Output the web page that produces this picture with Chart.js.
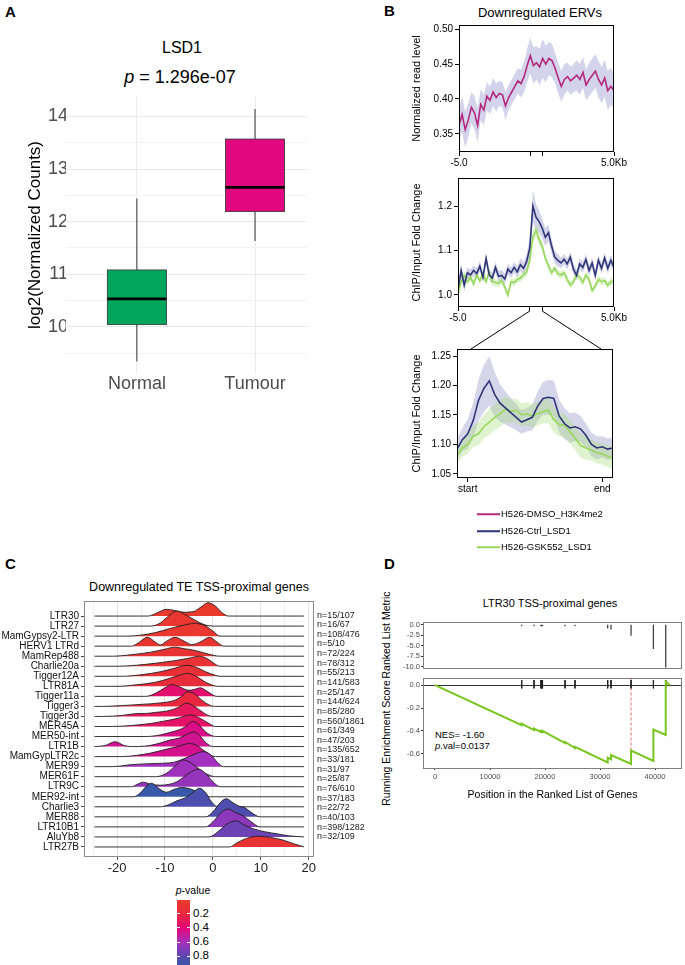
<!DOCTYPE html>
<html>
<head>
<meta charset="utf-8">
<script src="https://cdn.jsdelivr.net/npm/chart.js@4/dist/chart.umd.min.js"></script>
<style>
  html, body { margin: 0; padding: 0; background: #fff; }
  #page { position: relative; width: 685px; height: 965px; overflow: hidden; background: #fff;
          font-family: "Liberation Sans", Arial, Helvetica, sans-serif; color: #000; }
  #page canvas { position: absolute; }
  #page svg { position: absolute; left: 0; top: 0; }
  .t { position: absolute; white-space: nowrap; line-height: 1; }
  .c { transform: translate(-50%, -50%); }
  .l { transform: translate(0, -50%); }
  .r { transform: translate(-50%, -50%) rotate(-90deg); }
  .tag { font-weight: bold; font-size: 15px; }
</style>
</head>
<body>
<div id="page">
  <svg width="685" height="965">
    <line x1="529.8" y1="311" x2="471" y2="349" stroke="#000" stroke-width="1"/>
    <line x1="542.2" y1="311" x2="601" y2="349" stroke="#000" stroke-width="1"/>
  </svg>

  <div class="t tag" style="left:5px;top:4px">A</div>
  <div class="t tag" style="left:384px;top:3px">B</div>
  <div class="t tag" style="left:5px;top:556px">C</div>
  <div class="t tag" style="left:384px;top:556px">D</div>

  <div class="t c" style="left:182px;top:48px;font-size:16px">LSD1</div>
  <div class="t c" style="left:180px;top:77px;font-size:18px"><i>p</i> = 1.296e-07</div>

  <div class="t c" style="left:540px;top:12px;font-size:13px">Downregulated ERVs</div>

  <div class="t c" style="left:199px;top:587px;font-size:12.5px">Downregulated TE TSS-proximal genes</div>
  <div class="t c" style="left:193px;top:890px;font-size:10.5px"><i>p</i>-value</div>

  <div class="t c" style="left:550px;top:603px;font-size:11px">LTR30 TSS-proximal genes</div>
  <div class="t r" style="left:386px;top:635px;font-size:10.5px">Ranked List Metric</div>
  <div class="t r" style="left:386px;top:743px;font-size:10.5px">Running Enrichment Score</div>
  <div class="t l" style="left:435px;top:735px;font-size:9.5px">NES= -1.60</div>
  <div class="t l" style="left:435px;top:746px;font-size:9.5px"><i>p</i>.val=0.0137</div>
</div>

<script>
// ---- A: LSD1 expression boxplot ----
const boxCategories = ['Normal', 'Tumour'];
const boxLow    = [9.34, 11.63];
const boxQ1     = [10.04, 12.19];
const boxMedian = [10.53, 12.65];
const boxQ3     = [11.08, 13.57];
const boxHigh   = [12.44, 14.14];
const boxColors = ['#00a65b', '#e1077f'];
const boxTicks  = [9.5, 10, 10.5, 11, 11.5, 12, 12.5, 13, 13.5, 14];

// ---- B: profiles around downregulated ERVs ----
const profileKb = [-5.0,-4.8,-4.6,-4.4,-4.2,-4.0,-3.8,-3.6,-3.4,-3.2,
  -3.0,-2.8,-2.6,-2.4,-2.2,-2.0,-1.8,-1.6,-1.4,-1.2,
  -1.0,-0.8,-0.6,-0.4,-0.2,0.0,0.2,0.4,0.6,0.8,
  1.0,1.2,1.4,1.6,1.8,2.0,2.2,2.4,2.6,2.8,
  3.0,3.2,3.4,3.6,3.8,4.0,4.2,4.4,4.6,4.8,
  5.0];
const h3k4me2Level = [0.362,0.378,0.356,0.370,0.388,0.380,0.362,0.392,0.384,0.404,
  0.398,0.410,0.402,0.408,0.406,0.390,0.402,0.410,0.418,0.426,
  0.422,0.432,0.448,0.462,0.448,0.452,0.446,0.458,0.450,0.458,
  0.455,0.444,0.430,0.418,0.428,0.432,0.426,0.430,0.434,0.428,
  0.438,0.420,0.428,0.434,0.440,0.428,0.420,0.430,0.412,0.418,
  0.412];
const h3k4me2Err = [0.024,0.026,0.026,0.024,0.022,0.024,0.024,0.022,0.022,0.020,
  0.020,0.020,0.020,0.018,0.018,0.020,0.018,0.018,0.018,0.018,
  0.020,0.022,0.024,0.026,0.026,0.024,0.026,0.028,0.026,0.024,
  0.024,0.022,0.022,0.022,0.022,0.020,0.020,0.020,0.022,0.022,
  0.022,0.022,0.024,0.024,0.024,0.026,0.026,0.026,0.028,0.026,
  0.026];
const lsd1CtrlFold = [1.012,1.055,1.022,1.050,1.045,1.055,1.048,1.065,1.040,1.082,
  1.045,1.038,1.062,1.042,1.044,1.036,1.058,1.050,1.062,1.052,
  1.068,1.060,1.075,1.105,1.200,1.175,1.165,1.150,1.130,1.140,
  1.110,1.085,1.078,1.072,1.080,1.070,1.085,1.058,1.044,1.070,
  1.062,1.080,1.055,1.072,1.044,1.078,1.060,1.083,1.060,1.078,
  1.062];
const lsd1CtrlErr = [0.014,0.014,0.014,0.012,0.012,0.012,0.012,0.012,0.012,0.012,
  0.012,0.012,0.012,0.012,0.012,0.012,0.012,0.012,0.012,0.012,
  0.014,0.014,0.016,0.022,0.035,0.030,0.025,0.022,0.020,0.018,
  0.016,0.014,0.014,0.012,0.012,0.012,0.012,0.012,0.012,0.012,
  0.012,0.012,0.012,0.012,0.012,0.012,0.012,0.012,0.012,0.012,
  0.012];
const lsd1GskFold = [1.002,1.030,1.044,1.030,1.040,1.025,1.045,1.032,1.048,1.030,
  1.052,1.030,1.028,1.026,1.032,1.018,1.000,1.030,1.028,1.035,
  1.038,1.045,1.052,1.078,1.130,1.145,1.125,1.110,1.082,1.066,
  1.050,1.060,1.048,1.045,1.050,1.035,1.022,1.030,1.045,1.040,
  1.028,1.045,1.035,1.010,1.020,1.035,1.030,1.032,1.022,1.030,
  1.032];
const lsd1GskErr = [0.008,0.008,0.008,0.008,0.008,0.008,0.008,0.008,0.008,0.008,
  0.008,0.008,0.008,0.008,0.008,0.008,0.008,0.008,0.008,0.008,
  0.008,0.008,0.010,0.012,0.014,0.014,0.012,0.010,0.009,0.008,
  0.008,0.008,0.008,0.008,0.008,0.008,0.008,0.008,0.008,0.008,
  0.008,0.008,0.008,0.008,0.008,0.008,0.008,0.008,0.008,0.008,
  0.008];
const bodyPos = [-0.08,-0.04,0.00,0.04,0.08,0.12,0.16,0.20,0.24,0.28,
  0.32,0.36,0.40,0.44,0.48,0.52,0.56,0.60,0.64,0.68,
  0.72,0.76,0.80,0.84,0.88,0.92,0.96,1.00,1.04,1.08];
const lsd1CtrlBody = [1.092,1.108,1.118,1.140,1.175,1.195,1.208,1.185,1.170,1.162,
  1.154,1.146,1.138,1.142,1.146,1.165,1.178,1.180,1.178,1.148,
  1.135,1.128,1.130,1.126,1.115,1.100,1.094,1.096,1.092,1.094];
const lsd1CtrlBodyErr = [0.018,0.020,0.025,0.030,0.035,0.040,0.042,0.038,0.032,0.028,
  0.025,0.022,0.020,0.020,0.022,0.025,0.028,0.030,0.030,0.028,
  0.026,0.025,0.024,0.022,0.020,0.020,0.020,0.018,0.018,0.018];
const lsd1GskBody = [1.082,1.094,1.100,1.114,1.118,1.130,1.138,1.146,1.152,1.160,
  1.156,1.158,1.150,1.152,1.148,1.152,1.156,1.158,1.142,1.134,
  1.132,1.122,1.110,1.098,1.094,1.090,1.086,1.084,1.080,1.076];
const lsd1GskBodyErr = [0.014,0.015,0.016,0.018,0.020,0.020,0.022,0.022,0.022,0.022,
  0.020,0.020,0.020,0.020,0.020,0.020,0.020,0.022,0.022,0.020,
  0.020,0.020,0.020,0.020,0.020,0.018,0.018,0.018,0.018,0.018];
const seriesNames  = ['H526-DMSO_H3K4me2', 'H526-Ctrl_LSD1', 'H526-GSK552_LSD1'];
const seriesColors = ['#b3297e', '#2e3577', '#97d85c'];

// ---- C: ridgelines of fold change per TE family ----
const teNames = ['LTR30','LTR27','MamGypsy2-LTR','HERV1 LTRd','MamRep488','Charlie20a','Tigger12A',
  'LTR81A','Tigger11a','Tigger3','Tigger3d','MER45A','MER50-int','LTR1B','MamGypLTR2c','MER99',
  'MER61F','LTR9C','MER92-int','Charlie3','MER88','LTR10B1','AluYb8','LTR27B'];
const teCounts = ['n=15/107','n=16/67','n=108/476','n=5/10','n=72/224','n=78/312','n=55/213',
  'n=141/583','n=25/147','n=144/624','n=85/280','n=560/1861','n=61/349','n=47/203','n=135/652',
  'n=33/181','n=31/97','n=25/87','n=76/610','n=37/183','n=22/72','n=40/103','n=398/1282','n=32/109'];
const tePValue = [0.02,0.04,0.04,0.06,0.09,0.10,0.12,0.16,0.36,0.20,0.30,0.33,0.43,0.46,0.45,
  0.60,0.61,0.64,0.92,0.85,0.84,0.66,0.75,0.08];
// [fold change, density height in row units]
const teDensity = [
  [[-13.5,0],[-11.5,0.35],[-9.7,0.67],[-8,0.55],[-6,0.38],[-4,0.45],[-2.5,0.9],[-1,1.33],[0.5,1.0],[2,0.3],[3.2,0]],
  [[-13,0],[-11,0.3],[-9.5,0.9],[-7.5,1.5],[-6,1.2],[-4.5,0.8],[-3,0.4],[-1.5,0.1],[0,0]],
  [[-18,0],[-15,0.1],[-12,0.35],[-9,0.75],[-6,1.1],[-3.7,1.27],[-1.5,1.0],[0,0.5],[1.5,0]],
  [[-17,0],[-15.5,0.35],[-13.7,0.88],[-12,0.4],[-11,0.12],[-9.5,0.55],[-7.9,0.88],[-6,0.5],[-4.4,0.15],[-2.5,0.45],[-0.7,0.88],[1,0.35],[2.3,0]],
  [[-21,0],[-17,0.15],[-13,0.4],[-10,0.7],[-8,0.9],[-6,0.75],[-4,0.6],[-2,0.35],[0,0.1],[1.5,0]],
  [[-20,0],[-16,0.1],[-12,0.3],[-8,0.55],[-5,0.8],[-2.8,1.0],[-1,0.7],[0.5,0.2],[1.5,0]],
  [[-19,0],[-15,0.15],[-11,0.45],[-8,0.8],[-5.5,1.1],[-3.5,0.9],[-1.5,0.45],[0.5,0.1],[1.5,0]],
  [[-20,0],[-16,0.15],[-12,0.4],[-9,0.8],[-7,1.1],[-5.5,1.3],[-3.5,1.0],[-1.5,0.4],[0,0.1],[1,0]],
  [[-14,0],[-12,0.3],[-10,0.85],[-8.5,1.17],[-7,0.95],[-5,0.6],[-3.8,0.7],[-2.6,0.85],[-1.2,0.5],[0.8,0]],
  [[-23,0],[-19,0.08],[-15,0.2],[-11,0.35],[-8,0.6],[-6.5,1.0],[-5.5,1.45],[-4,1.3],[-2.5,0.7],[-1,0.2],[0.5,0]],
  [[-23,0],[-19,0.1],[-16,0.28],[-14,0.3],[-12,0.4],[-9,0.6],[-7,0.95],[-5.6,1.33],[-4,1.05],[-2.5,0.55],[-1,0.1],[0,0]],
  [[-21,0],[-17,0.1],[-13,0.3],[-10,0.55],[-7,0.85],[-4.8,1.15],[-3,0.9],[-1,0.35],[0.5,0]],
  [[-14,0],[-11,0.15],[-9,0.4],[-7.5,0.6],[-6,0.9],[-4.2,1.5],[-3,1.2],[-1.5,0.45],[0,0.05],[1,0]],
  [[-24.7,0],[-22.5,0.1],[-20.4,0.48],[-18.5,0.1],[-17,0],[-14,0.05],[-11,0.35],[-9,0.65],[-7,0.85],[-5.5,1.2],[-4,1.45],[-2.8,1.1],[-1.5,0.4],[0,0]],
  [[-19,0],[-16,0.12],[-13,0.35],[-10,0.7],[-7,1.05],[-5,1.3],[-3.5,1.15],[-2,0.65],[-0.5,0.15],[0.5,0]],
  [[-21,0],[-17,0.2],[-13,0.3],[-10,0.35],[-8,0.45],[-6,0.8],[-4,1.2],[-2,1.5],[-0.5,1.2],[1,0.4],[2.2,0]],
  [[-12,0],[-10,0.25],[-8.5,0.8],[-7,1.45],[-6.2,1.67],[-5,1.5],[-3.5,1.0],[-2,0.45],[-0.5,0.1],[0.5,0]],
  [[-17,0],[-15.5,0.3],[-14.5,0.45],[-13,0.25],[-11,0.15],[-9,0.25],[-7.5,0.5],[-6,1.0],[-4.5,1.5],[-3,1.75],[-1.5,1.3],[0,0.5],[1.5,0]],
  [[-16.5,0],[-15,0.45],[-13.8,1.1],[-12.8,1.34],[-11.5,0.9],[-9.7,0.45],[-8,0.75],[-6.5,0.92],[-4.5,0.75],[-3,0.4],[-1.5,0.05],[-0.5,0]],
  [[-11,0],[-9,0.25],[-7.5,0.6],[-5.5,0.95],[-4,1.5],[-2.8,1.85],[-1.5,1.4],[-0.3,0.5],[1,0]],
  [[-1.5,0],[0,0.5],[1.5,1.4],[2.8,1.8],[4.2,1.4],[5.5,1.05],[6.5,0.95],[8,0.45],[9.8,0]],
  [[-1.5,0],[0,0.5],[1.8,1.45],[3.2,1.77],[4.8,1.4],[6.3,1.1],[8,0.5],[9.8,0]],
  [[-0.8,0],[1,0.5],[3,1.3],[4.9,1.6],[6.5,1.2],[8.5,0.8],[11,0.5],[13.5,0.3],[16,0.1],[19,0]],
  [[3.5,0],[5,0.4],[7,0.85],[9.5,1.07],[12,0.95],[14.5,0.7],[17,0.3],[19,0]]
];
const densityMin = -24.7, densityMax = 19;
const foldTicks = [-25,-20,-15,-10,-5,0,5,10,15,20];
const pStops = [[0,'#ea3b2b'],[0.2,'#e8283f'],[0.4,'#e3077b'],[0.6,'#a330be'],[0.8,'#5b48b1'],[0.93,'#3559a8']];
const pLegendTicks = [0.2, 0.4, 0.6, 0.8];

// ---- D: GSEA LTR30 TSS-proximal genes ----
const gseaHitPos    = [15760,18000,19250,19400,19550,23640,25450,31390,32000,35640,39700,41940];
const gseaHitMetric = [-0.35,-0.35,-0.35,-0.35,-0.35,-0.35,-0.35,-0.9,-1.1,-2.6,-5.8,-10.2];
const gseaEsPos   = [0,15760,15760,18000,18000,19250,19250,19400,19400,19550,19550,23640,23640,
  25450,25450,31390,31390,32000,32000,35640,35640,39700,39700,41940,41940,42730];
const gseaEsScore = [0,-0.351,-0.337,-0.394,-0.381,-0.410,-0.404,-0.408,-0.402,-0.406,-0.400,-0.507,-0.497,
  -0.550,-0.540,-0.677,-0.635,-0.650,-0.612,-0.690,-0.572,-0.663,-0.388,-0.436,0.031,0];
const gseaPosTicks = [0, 10000, 20000, 30000, 40000];
const gseaEsMin = -0.725, gseaEsMax = 0.067;

// ---------------- helpers ----------------
Chart.defaults.font.family = '"Liberation Sans", Arial, Helvetica, sans-serif';
Chart.defaults.color = '#000';
Chart.defaults.animation = false;
Chart.defaults.plugins.legend.display = false;
Chart.defaults.plugins.tooltip.enabled = false;
Chart.defaults.elements.point.radius = 0;

const page = document.getElementById('page');

function addCanvas(left, top, w, h) {
  const c = document.createElement('canvas');
  c.width = w; c.height = h;
  c.style.left = left + 'px'; c.style.top = top + 'px';
  c.style.width = w + 'px'; c.style.height = h + 'px';
  page.appendChild(c);
  return c.getContext('2d');
}
function fixWidth(w) { return s => { s.width = w; }; }
function fixHeight(h) { return s => { s.height = h; }; }
function setTicks(vals) { return s => { s.ticks = vals.map(v => ({ value: v })); }; }
function frame(color, lw) {
  return {
    id: 'frame',
    afterDatasetsDraw(chart) {
      const a = chart.chartArea, c = chart.ctx;
      c.save();
      c.strokeStyle = color; c.lineWidth = lw;
      c.strokeRect(Math.round(a.left) + 0.5, Math.round(a.top) + 0.5,
                   Math.round(a.right - a.left) - 1, Math.round(a.bottom - a.top) - 1);
      c.restore();
    }
  };
}
function band(xs, ys, err, color, order) {
  return [
    { data: xs.map((x, i) => ({ x, y: ys[i] + err[i] })), borderWidth: 0, fill: '+1', backgroundColor: color, order },
    { data: xs.map((x, i) => ({ x, y: ys[i] - err[i] })), borderWidth: 0, fill: false, order }
  ];
}
function line(xs, ys, color, order) {
  return { data: xs.map((x, i) => ({ x, y: ys[i] })), borderColor: color, borderWidth: 1.6, fill: false, order };
}
function hexToRgb(h) { return [1, 3, 5].map(k => parseInt(h.substr(k, 2), 16)); }
function pColor(p) {
  for (let k = 1; k < pStops.length; k++) {
    if (p <= pStops[k][0] || k === pStops.length - 1) {
      const [p0, c0] = pStops[k - 1], [p1, c1] = pStops[k];
      const f = Math.max(0, Math.min(1, (p - p0) / (p1 - p0)));
      const a = hexToRgb(c0), b = hexToRgb(c1);
      return 'rgb(' + a.map((v, j) => Math.round(v + (b[j] - v) * f)).join(',') + ')';
    }
  }
}

// ---------------- A ----------------
const boxPlugin = {
  id: 'boxes',
  afterDatasetsDraw(chart) {
    const { ctx, scales: { x, y } } = chart;
    boxCategories.forEach((cat, i) => {
      const cx = x.getPixelForValue(i + 1);
      const l = x.getPixelForValue(i + 0.75), r = x.getPixelForValue(i + 1.25);
      const top = y.getPixelForValue(boxQ3[i]), bot = y.getPixelForValue(boxQ1[i]);
      ctx.save();
      ctx.strokeStyle = '#333'; ctx.lineWidth = 1;
      ctx.beginPath();
      ctx.moveTo(cx, y.getPixelForValue(boxHigh[i])); ctx.lineTo(cx, top);
      ctx.moveTo(cx, bot); ctx.lineTo(cx, y.getPixelForValue(boxLow[i]));
      ctx.stroke();
      ctx.fillStyle = boxColors[i];
      ctx.fillRect(l, top, r - l, bot - top);
      ctx.lineWidth = 0.8; ctx.strokeRect(l, top, r - l, bot - top);
      const m = y.getPixelForValue(boxMedian[i]);
      ctx.strokeStyle = '#000'; ctx.lineWidth = 2.6;
      ctx.beginPath(); ctx.moveTo(l, m); ctx.lineTo(r, m); ctx.stroke();
      ctx.restore();
    });
  }
};

new Chart(addCanvas(0, 88, 330, 310), {
  type: 'scatter',
  data: { datasets: [] },
  options: {
    responsive: false,
    layout: { autoPadding: false, padding: { top: 9, right: 23 } },
    scales: {
      x: { type: 'linear', min: 0.4, max: 2.44,
           afterBuildTicks: setTicks(boxCategories.map((c, i) => i + 1)), afterFit: fixHeight(25),
           ticks: { autoSkip: false, maxRotation: 0, font: { size: 18 }, color: '#4d4d4d', padding: 0,
                    callback: v => boxCategories[v - 1] },
           grid: { color: '#ebebeb', drawTicks: false }, border: { display: false } },
      y: { type: 'linear', min: 9.12, max: 14.37,
           afterBuildTicks: setTicks(boxTicks), afterFit: fixWidth(66),
           ticks: { font: { size: 18 }, color: '#4d4d4d', padding: -2,
                    callback: v => Number.isInteger(v) ? String(v) : '' },
           grid: { drawTicks: false, color: c => Number.isInteger(c.tick.value) ? '#e8e8e8' : '#f3f3f3' },
           border: { display: false },
           title: { display: true, text: 'log2(Normalized Counts)', font: { size: 17 }, padding: { top: 25, bottom: 0 } } }
    }
  },
  plugins: [boxPlugin]
});

// ---------------- B ----------------
function profileOptions(o) {
  return {
    responsive: false,
    layout: { autoPadding: false, padding: { top: o.padTop, right: o.padRight } },
    scales: {
      x: { type: 'linear', min: o.xMin, max: o.xMax,
           afterBuildTicks: setTicks(o.xTicks), afterFit: fixHeight(o.xH),
           ticks: { autoSkip: false, maxRotation: 0, font: { size: 10 }, color: '#000', padding: 1, callback: o.xLabel },
           grid: { drawOnChartArea: false, tickLength: 4, tickColor: '#000' }, border: { display: false } },
      y: { type: 'linear', min: o.yMin, max: o.yMax,
           afterBuildTicks: setTicks(o.yTicks), afterFit: fixWidth(o.yW),
           ticks: { font: { size: 10 }, color: '#000', padding: 2, callback: v => v.toFixed(o.dec) },
           grid: { drawOnChartArea: false, tickLength: 4, tickColor: '#000' }, border: { display: false },
           title: { display: true, text: o.yTitle, font: { size: 11 }, padding: { top: 15.4, bottom: 0 } } }
    }
  };
}
const kbLabel = v => v === -5 ? '-5.0' : (v === 5 ? '5.0Kb' : '');

new Chart(addCanvas(395, 15, 240, 170), {
  type: 'line',
  data: { datasets: [
    ...band(profileKb, h3k4me2Level, h3k4me2Err, 'rgba(175,175,218,0.55)', 2),
    line(profileKb, h3k4me2Level, seriesColors[0], 0)
  ] },
  options: profileOptions({ padTop: 10, padRight: 21, yW: 64, xH: 33, xMin: -5, xMax: 5,
    xTicks: [-5, -0.4, 0.4, 5], xLabel: kbLabel, yMin: 0.324, yMax: 0.506,
    yTicks: [0.35, 0.40, 0.45, 0.50], dec: 2, yTitle: 'Normalized read level' }),
  plugins: [frame('#000', 1)]
});

new Chart(addCanvas(395, 168, 240, 170), {
  type: 'line',
  data: { datasets: [
    ...band(profileKb, lsd1CtrlFold, lsd1CtrlErr, 'rgba(165,165,210,0.5)', 4),
    ...band(profileKb, lsd1GskFold, lsd1GskErr, 'rgba(160,220,110,0.35)', 3),
    line(profileKb, lsd1GskFold, seriesColors[2], 1),
    line(profileKb, lsd1CtrlFold, seriesColors[1], 0)
  ] },
  options: profileOptions({ padTop: 10, padRight: 21, yW: 63, xH: 31, xMin: -5, xMax: 5,
    xTicks: [-5, -0.4, 0.4, 5], xLabel: kbLabel, yMin: 0.973, yMax: 1.263,
    yTicks: [1.0, 1.1, 1.2], dec: 1, yTitle: 'ChIP/Input Fold Change' }),
  plugins: [frame('#000', 1)]
});

new Chart(addCanvas(395, 339, 240, 165), {
  type: 'line',
  data: { datasets: [
    ...band(bodyPos, lsd1CtrlBody, lsd1CtrlBodyErr, 'rgba(165,165,210,0.45)', 4),
    ...band(bodyPos, lsd1GskBody, lsd1GskBodyErr, 'rgba(165,222,120,0.35)', 3),
    line(bodyPos, lsd1GskBody, seriesColors[2], 1),
    line(bodyPos, lsd1CtrlBody, seriesColors[1], 0)
  ] },
  options: profileOptions({ padTop: 10, padRight: 22, yW: 62, xH: 26, xMin: -0.08, xMax: 1.08,
    xTicks: [0, 1], xLabel: v => v === 0 ? 'start' : 'end', yMin: 1.043, yMax: 1.262,
    yTicks: [1.05, 1.10, 1.15, 1.20, 1.25], dec: 2, yTitle: 'ChIP/Input Fold Change' }),
  plugins: [frame('#000', 1)]
});

const legendTop = [514, 531, 547];
seriesNames.forEach((name, i) => {
  const row = document.createElement('div');
  row.className = 't l';
  row.style.left = '477px'; row.style.top = legendTop[i] + 'px'; row.style.fontSize = '9.5px';
  row.innerHTML = '<span style="display:inline-block;width:23px;height:2px;vertical-align:middle;margin-right:1px;background:'
    + seriesColors[i] + '"></span>' + name;
  page.appendChild(row);
});

// ---------------- C ----------------
const nRows = teNames.length;
const ridgeSets = teDensity.map((pts, i) => {
  const base = nRows - 1 - i;
  const data = pts.map(([x, h]) => ({ x, y: base + h }));
  if (pts[0][0] > densityMin) data.unshift({ x: densityMin, y: base });
  if (pts[pts.length - 1][0] < densityMax) data.push({ x: densityMax, y: base });
  return {
    data, fill: { value: base }, backgroundColor: pColor(tePValue[i]),
    borderColor: '#1f1f1f', borderWidth: 0.9, cubicInterpolationMode: 'monotone', order: nRows - i
  };
});
const countLabels = {
  id: 'counts',
  afterDraw(chart) {
    const { ctx, chartArea, scales: { y } } = chart;
    ctx.save();
    ctx.font = '9px "Liberation Sans", Arial, sans-serif';
    ctx.fillStyle = '#1a1a1a'; ctx.textBaseline = 'middle'; ctx.textAlign = 'left';
    teCounts.forEach((t, i) => {
      ctx.fillText(t, chartArea.right + 3, y.getPixelForValue(nRows - 1 - i) - 1 - i * 0.4);
    });
    ctx.restore();
  }
};
new Chart(addCanvas(0, 592, 385, 290), {
  type: 'line',
  data: { datasets: ridgeSets },
  options: {
    responsive: false,
    layout: { autoPadding: false, padding: { top: 9, right: 71 } },
    scales: {
      x: { type: 'linear', min: -26.9, max: 21.1,
           afterBuildTicks: setTicks(foldTicks), afterFit: fixHeight(25),
           ticks: { autoSkip: false, maxRotation: 0, font: { size: 13 }, color: '#222', padding: 1,
                    callback: v => v % 10 === 0 ? String(v) : '' },
           grid: { color: c => c.tick.value % 10 === 0 ? '#e3e3e3' : '#efefef', tickLength: 3,
                   tickColor: c => c.tick.value % 10 === 0 ? '#555' : 'rgba(0,0,0,0)' },
           border: { display: false } },
      y: { type: 'linear', min: -1.0, max: 24.5,
           afterBuildTicks: setTicks(teNames.map((n, i) => nRows - 1 - i)), afterFit: fixWidth(84),
           ticks: { autoSkip: false, font: { size: 10 }, color: '#111', padding: 2,
                    callback: v => teNames[nRows - 1 - v] },
           grid: { drawOnChartArea: false, tickLength: 3, tickColor: '#444' }, border: { display: false } }
    }
  },
  plugins: [frame('#8c8c8c', 1), countLabels]
});

// colour bar legend for p-value
const pBarTop = 899.5, pBarPx = 71;
const pMaxStop = pStops[pStops.length - 1][0];
const bar = document.createElement('div');
bar.style.cssText = 'position:absolute;left:177px;width:13px;top:' + pBarTop + 'px;height:' + (pMaxStop * pBarPx) + 'px;background:linear-gradient(to bottom,'
  + pStops.map(([p, c]) => c + ' ' + (p / pMaxStop * 100).toFixed(1) + '%').join(',') + ')';
page.appendChild(bar);
pLegendTicks.forEach(p => {
  const y = pBarTop + p * pBarPx;
  ['177px', '187px'].forEach(x => {
    const tk = document.createElement('div');
    tk.style.cssText = 'position:absolute;left:' + x + ';top:' + (y - 0.5) + 'px;width:3px;height:1px;background:#fff';
    page.appendChild(tk);
  });
  const lab = document.createElement('div');
  lab.className = 't l';
  lab.style.left = '193px'; lab.style.top = y + 'px'; lab.style.fontSize = '11.5px';
  lab.textContent = p.toFixed(1);
  page.appendChild(lab);
});

// ---------------- D ----------------
const gseaX = { type: 'linear', min: -2180, max: 44900 };
new Chart(addCanvas(380, 614, 305, 60), {
  type: 'line',
  data: { datasets: [{
    data: gseaHitPos.flatMap((p, i) => [{ x: p, y: 0 }, { x: p, y: gseaHitMetric[i] }, { x: p, y: null }]),
    borderColor: '#444', borderWidth: 1.3, fill: false
  }] },
  options: {
    responsive: false,
    layout: { autoPadding: false, padding: { top: 8, right: 3, bottom: 3 } },
    scales: {
      x: Object.assign({ display: false }, gseaX),
      y: { type: 'linear', min: -10.45, max: 0.68,
           afterBuildTicks: setTicks([0, -2.5, -5, -7.5, -10]), afterFit: fixWidth(43),
           ticks: { font: { size: 7.5 }, color: '#4d4d4d', padding: 1, callback: v => v.toFixed(1) },
           grid: { drawOnChartArea: false, tickLength: 2, tickColor: '#333' }, border: { display: false } }
    }
  },
  plugins: [frame('#7f7f7f', 1)]
});

const esMinIdx = gseaEsScore.indexOf(Math.min(...gseaEsScore));
new Chart(addCanvas(380, 672, 305, 133), {
  type: 'line',
  data: { datasets: [
    { data: gseaEsPos.map((x, i) => ({ x, y: gseaEsScore[i] })), borderColor: '#79c51f', borderWidth: 2, fill: false, order: 0 },
    { data: gseaHitPos.flatMap(p => [{ x: p, y: 0.045 }, { x: p, y: -0.028 }, { x: p, y: null }]),
      borderColor: '#222', borderWidth: 1, fill: false, order: 1 },
    { data: [{ x: gseaEsPos[esMinIdx], y: gseaEsMax }, { x: gseaEsPos[esMinIdx], y: gseaEsScore[esMinIdx] }],
      borderColor: '#e07272', borderWidth: 1, borderDash: [3, 2], fill: false, order: 2 }
  ] },
  options: {
    responsive: false,
    layout: { autoPadding: false, padding: { top: 2, right: 3 } },
    scales: {
      x: Object.assign({
           afterBuildTicks: setTicks(gseaPosTicks), afterFit: fixHeight(37),
           ticks: { autoSkip: false, maxRotation: 0, font: { size: 7.5 }, color: '#4d4d4d', padding: 2, callback: v => String(v) },
           grid: { drawOnChartArea: false, tickLength: 2, tickColor: '#333' }, border: { display: false },
           title: { display: true, text: 'Position in the Ranked List of Genes', font: { size: 10.5 }, padding: { top: 0, bottom: 3.7 } } }, gseaX),
      y: { type: 'linear', min: gseaEsMin, max: gseaEsMax,
           afterBuildTicks: setTicks([0, -0.2, -0.4, -0.6]), afterFit: fixWidth(43),
           ticks: { font: { size: 7.5 }, color: '#4d4d4d', padding: 1, callback: v => v.toFixed(1) },
           grid: { color: c => c.tick.value === 0 ? '#333' : 'rgba(0,0,0,0)', tickLength: 2, tickColor: '#333' },
           border: { display: false } }
    }
  },
  plugins: [frame('#7f7f7f', 1)]
});
</script>
</body>
</html>
